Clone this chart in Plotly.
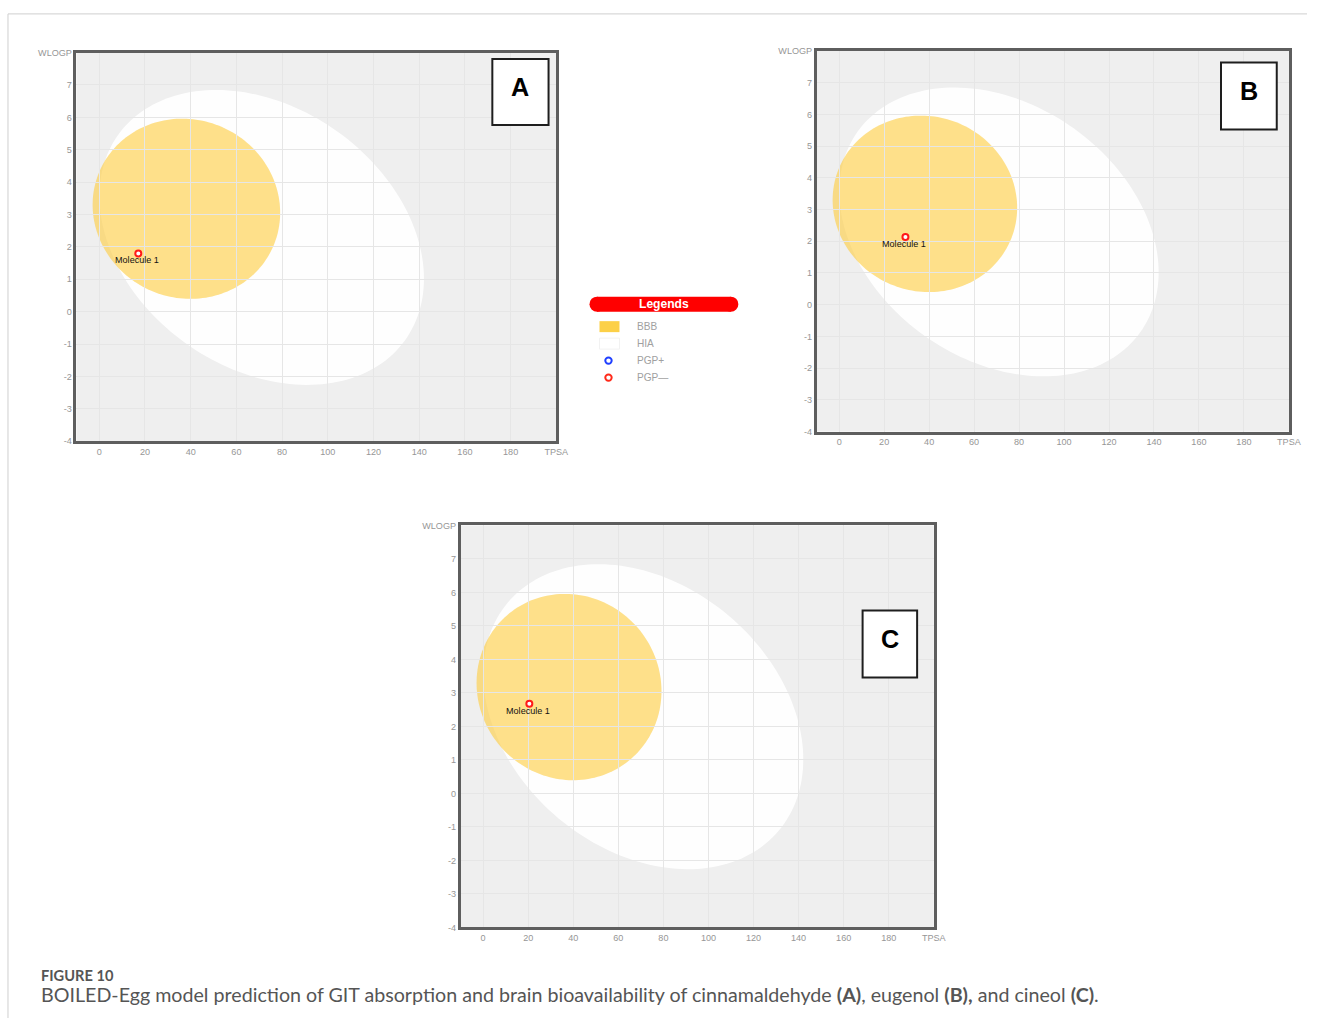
import numpy as np
import plotly.graph_objects as go

W, H = 1320, 1023
# page-pixel to figure-pixel conversion (scale and top offset of the rendered page)
SCALE = 0.991
OFF_X, OFF_Y = 0.0, 4.1

# ---- data -------------------------------------------------------------
panel_labels = ["A", "B", "C"]
molecule_names = ["Molecule 1", "Molecule 1", "Molecule 1"]
molecule_tpsa = [17.07, 29.46, 20.5]
molecule_wlogp = [1.80, 2.13, 2.68]

x_tickvals = [0, 20, 40, 60, 80, 100, 120, 140, 160, 180, 200]
x_ticktext = ["0", "20", "40", "60", "80", "100", "120", "140", "160", "180", "TPSA"]
y_tickvals = [-4, -3, -2, -1, 0, 1, 2, 3, 4, 5, 6, 7, 8]
y_ticktext = ["-4", "-3", "-2", "-1", "0", "1", "2", "3", "4", "5", "6", "7", "WLOGP"]

# BOILED-Egg regions: centre (TPSA, WLOGP), full axes, rotation in degrees
hia_center = [71.051, 2.292]
hia_axes = [142.081, 8.740]
hia_angle = -1.031
bbb_center = [38.117, 3.177]
bbb_axes = [82.061, 5.557]
bbb_angle = -0.171

legend_items = ["BBB", "HIA", "PGP+", "PGP\u2014"]


def ellipse_path(center, axes, angle_deg, n=180):
    t = np.linspace(0, 2 * np.pi, n, endpoint=False)
    a, b = axes[0] / 2.0, axes[1] / 2.0
    th = np.radians(angle_deg)
    x = center[0] + a * np.cos(t) * np.cos(th) - b * np.sin(t) * np.sin(th)
    y = center[1] + a * np.cos(t) * np.sin(th) + b * np.sin(t) * np.cos(th)
    pts = [f"{xi:.4f},{yi:.4f}" for xi, yi in zip(x, y)]
    return "M " + " L ".join(pts) + " Z"


def px(x):
    return ((x - OFF_X) / SCALE) / W


def py(y):
    return 1 - ((y - OFF_Y) / SCALE) / H


def fs(size):
    return size / SCALE


# plot-area boxes in page pixels: left, right, top, bottom
panel_boxes = [
    (76.5, 556.8, 51.7, 440.7),
    (817.4, 1290.0, 50.0, 431.0),
    (461.0, 934.6, 525.0, 927.3),
]
# letter boxes in data coordinates: x0, x1, y0, y1
letter_boxes = [
    (172.0, 196.6, 5.76, 7.80),
    (169.8, 194.6, 5.52, 7.63),
    (168.4, 192.6, 3.46, 5.46),
]

fig = go.Figure()
shapes = []
annotations = []
layout_axes = {}

ARIAL = "Arial, Liberation Sans, sans-serif"
tick_font = dict(family=ARIAL, size=fs(9), color="#969696")

for i in range(3):
    sfx = "" if i == 0 else str(i + 1)
    xr, yr = "x" + sfx, "y" + sfx
    l, r, t, b = panel_boxes[i]
    common = dict(
        showgrid=True, gridcolor="#e6e6e6", gridwidth=1,
        zeroline=False, showline=True, linecolor="#5e5e5e", linewidth=2.5,
        mirror=True, ticks="", tickfont=tick_font, fixedrange=True,
    )
    layout_axes["xaxis" + sfx] = dict(
        common, domain=[px(l), px(r)], range=[-10, 200], anchor=yr,
        tickmode="array", tickvals=x_tickvals, ticktext=x_ticktext,
    )
    layout_axes["yaxis" + sfx] = dict(
        common, domain=[py(b), py(t)], range=[-4, 8], anchor=xr,
        tickmode="array", tickvals=y_tickvals, ticktext=y_ticktext,
    )

    # egg white (HIA) and yolk (BBB)
    shapes.append(dict(type="path", xref=xr, yref=yr, layer="below",
                       path=ellipse_path(hia_center, hia_axes, hia_angle),
                       fillcolor="rgba(255,255,255,0.93)", line=dict(width=0)))
    shapes.append(dict(type="path", xref=xr, yref=yr, layer="below",
                       path=ellipse_path(bbb_center, bbb_axes, bbb_angle),
                       fillcolor="rgba(253,204,60,0.6)", line=dict(width=0)))

    # molecule point
    fig.add_trace(go.Scatter(
        x=[molecule_tpsa[i]], y=[molecule_wlogp[i]], xaxis=xr, yaxis=yr,
        mode="markers", showlegend=False, hoverinfo="skip",
        marker=dict(symbol="circle", size=6, color="white",
                    line=dict(color="#ff1a1a", width=2)),
    ))
    annotations.append(dict(
        x=molecule_tpsa[i], y=molecule_wlogp[i], xref=xr, yref=yr,
        xanchor="center", yanchor="middle",
        text=molecule_names[i], showarrow=False, yshift=-7, xshift=-1,
        font=dict(family=ARIAL, size=fs(9), color="#111"),
    ))

    # panel letter box
    x0, x1, y0, y1 = letter_boxes[i]
    shapes.append(dict(type="rect", xref=xr, yref=yr, x0=x0, x1=x1, y0=y0, y1=y1,
                       fillcolor="white", line=dict(color="#1e1e1e", width=2), layer="above"))
    annotations.append(dict(
        x=(x0 + x1) / 2, y=(y0 + y1) / 2, xref=xr, yref=yr, text="<b>%s</b>" % panel_labels[i],
        xanchor="center", yanchor="middle", showarrow=False, yshift=5,
        font=dict(family=ARIAL, size=fs(25), color="black"),
    ))

# ---- legend block -------------------------------------------------------
shapes.append(dict(type="rect", xref="paper", yref="paper",
                   x0=px(597.5), x1=px(731.5), y0=py(311), y1=py(296),
                   fillcolor="#ff0000", line=dict(width=0)))
# rounded ends of the red header
for cx in (597.5, 731.5):
    shapes.append(dict(type="circle", xref="paper", yref="paper",
                       x0=px(cx - 7.5), x1=px(cx + 7.5), y0=py(311), y1=py(296),
                       fillcolor="#ff0000", line=dict(width=0)))
annotations.append(dict(x=px(664.5), y=py(303.5), xref="paper", yref="paper",
                        xanchor="center", yanchor="middle",
                        text="<b>Legends</b>", showarrow=False,
                        font=dict(family=ARIAL, size=fs(12), color="white")))

item_y = [326, 343, 360, 377]
shapes.append(dict(type="rect", xref="paper", yref="paper",
                   x0=px(600), x1=px(620), y0=py(331.5), y1=py(320.5),
                   fillcolor="#fcd048", line=dict(width=0)))
shapes.append(dict(type="rect", xref="paper", yref="paper",
                   x0=px(600), x1=px(620), y0=py(348.5), y1=py(337.5),
                   fillcolor="white", line=dict(color="#f2f2f2", width=1)))
for yy, col in ((360, "#1f3fff"), (377, "#ff2a1a")):
    shapes.append(dict(type="circle", xref="paper", yref="paper",
                       x0=px(605.8), x1=px(612.2), y0=py(yy + 3.2), y1=py(yy - 3.2),
                       fillcolor="white", line=dict(color=col, width=2)))
for yy, lab in zip(item_y, legend_items):
    annotations.append(dict(x=px(636), y=py(yy), xref="paper", yref="paper",
                            text=lab, showarrow=False, xanchor="left", yanchor="middle",
                            font=dict(family=ARIAL, size=fs(10), color="#a0a0a0")))

# ---- outer frame and caption --------------------------------------------
shapes.append(dict(type="line", xref="paper", yref="paper",
                   x0=px(8), x1=1, y0=py(13), y1=py(13), line=dict(color="#cfcfcf", width=1)))
shapes.append(dict(type="line", xref="paper", yref="paper",
                   x0=px(8), x1=px(8), y0=py(13), y1=0, line=dict(color="#cfcfcf", width=1)))

annotations.append(dict(x=px(39), y=py(975), xref="paper", yref="paper",
                        xanchor="left", yanchor="middle",
                        text="<b>FIGURE 10</b>", showarrow=False,
                        font=dict(family="Lato, sans-serif", size=fs(14.5), color="#555555")))
annotations.append(dict(
    x=px(39), y=py(994), xref="paper", yref="paper", xanchor="left", yanchor="middle",
    showarrow=False,
    text=("BOILED-Egg model prediction of GIT absorption and brain bioavailability of "
          "cinnamaldehyde <b>(A)</b>, eugenol <b>(B),</b> and cineol <b>(C)</b>."),
    font=dict(family="Lato, sans-serif", size=fs(19.5), color="#555555"),
))

fig.update_layout(
    width=W, height=H, margin=dict(l=0, r=0, t=0, b=0),
    paper_bgcolor="white", plot_bgcolor="#efefef",
    shapes=shapes, annotations=annotations, showlegend=False,
    **layout_axes,
)

fig.write_html("out.html", config={"displayModeBar": False})
